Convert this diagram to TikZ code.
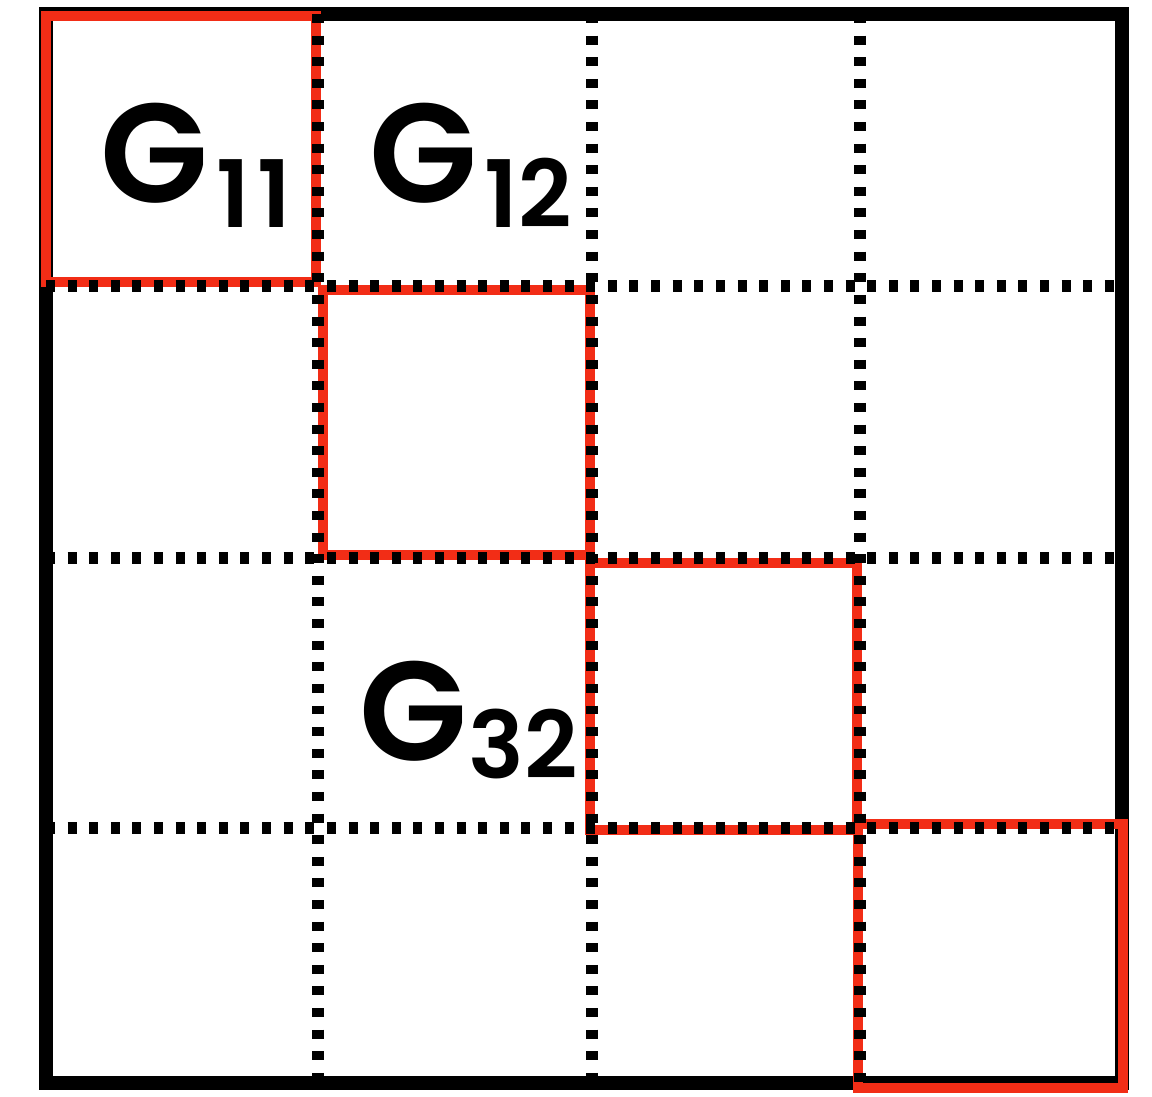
\documentclass[tikz,border=0pt]{standalone}
\usepackage{fontspec}
\newfontfamily\gfont{Poppins SemiBold}
\definecolor{redline}{RGB}{242,45,22}
\tikzset{
  outerline/.style={line width=7.9pt, draw=black},
  redbox/.style={line width=6.2pt, draw=redline},
  gridline/.style={line width=6.6pt, draw=black, dash pattern=on 5.1pt off 7.2pt},
  bigG/.style={font=\gfont\fontsize{80}{80}\selectfont, inner sep=0pt, anchor=base west},
  subG/.style={font=\gfont\fontsize{53}{53}\selectfont, inner sep=0pt, anchor=base west},
}
\begin{document}
\begin{tikzpicture}[x=0.02cm, y=-0.02cm]
\useasboundingbox (0,0) rectangle (1152,1097);
\fill[white] (0,0) rectangle (1152,1097);
% outer frame
\draw[outerline] (46,14) rectangle (1122,1083);
% red diagonal blocks
\draw[redbox] (46,16) rectangle (316,282);
\draw[redbox] (323,290) rectangle (590,555);
\draw[redbox] (590,563) rectangle (857,830);
\draw[redbox] (858,824) rectangle (1123,1088);
% dotted grid
\foreach \x in {318,592,860} \draw[gridline] (\x,14) -- (\x,1083);
\foreach \y in {286,558,828} \draw[gridline] (46,\y) -- (1122,\y);
% labels
\node[bigG] (g11) at (100,203) {G};
\node[subG] (s11) at (216,228) {1\kern4pt1};
\node[bigG] (g12) at (369,203) {G};
\node[subG] (s12) at (484,228) {12};
\node[bigG] (g32) at (359,760) {G};
\node[subG] (s32) at (468,778) {32};
\end{tikzpicture}
\end{document}
